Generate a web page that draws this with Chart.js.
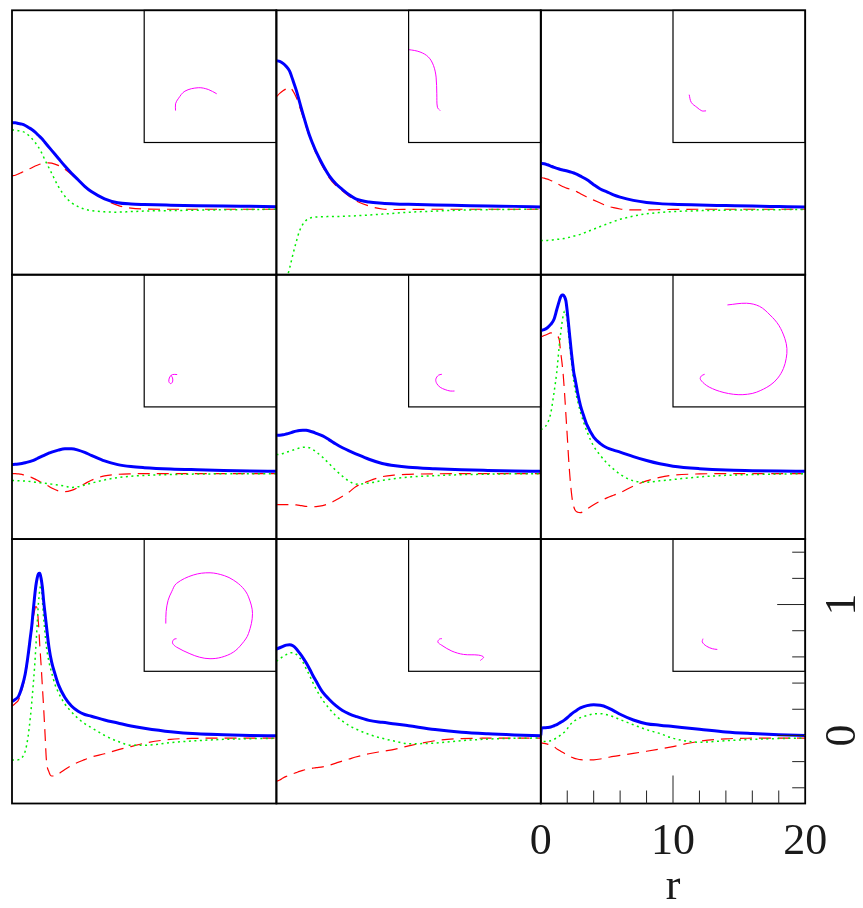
<!DOCTYPE html>
<html>
<head>
<meta charset="utf-8">
<title>Radial profiles</title>
<script src="https://cdn.jsdelivr.net/npm/chart.js@4.4.1/dist/chart.umd.min.js"></script>
<style>
  html, body { margin: 0; padding: 0; background: #fff; overflow: hidden; }
  #grid { position: relative; width: 863px; height: 908px; }
  #grid canvas { position: absolute; }
</style>
</head>
<body>
<div id="grid"></div>
<script>
// radial sample points (r)
const rCoarse = [0, 0.25, 0.5, 0.75, 1, 1.25, 1.5, 1.75, 2, 2.25, 2.5, 2.75, 3, 3.5, 4, 4.5, 5, 5.5, 6, 7, 8, 9, 10, 12, 14, 16, 18, 20];
const rFine = [0, 0.25, 0.5, 0.75, 1, 1.2, 1.4, 1.5, 1.6, 1.7, 1.8, 1.9, 2, 2.1, 2.2, 2.3, 2.4, 2.5, 2.6, 2.8, 3, 3.25, 3.5, 4, 4.5, 5, 5.5, 6, 7, 8, 9, 10, 12, 14, 16, 18, 20];
const r9 = [0, 0.05, 0.25, 0.5, 0.75, 1, 1.25, 1.5, 1.75, 2, 2.25, 2.5, 2.75, 3, 3.5, 4, 4.5, 5, 5.5, 6, 7, 8, 9, 10, 12, 14, 16, 18, 20];

// panel 1
const blue1 = [0.64, 0.64, 0.635, 0.63, 0.62, 0.605, 0.59, 0.57, 0.545, 0.52, 0.49, 0.46, 0.43, 0.37, 0.31, 0.255, 0.205, 0.155, 0.115, 0.06, 0.03, 0.02, 0.016, 0.011, 0.007, 0.004, 0.002, 0.0];
const red1 = [0.235, 0.24, 0.25, 0.262, 0.273, 0.285, 0.297, 0.31, 0.32, 0.328, 0.333, 0.335, 0.333, 0.315, 0.285, 0.245, 0.2, 0.155, 0.115, 0.055, 0.01, -0.012, -0.018, -0.02, -0.02, -0.02, -0.02, -0.02];
const green1 = [0.586, 0.585, 0.58, 0.575, 0.565, 0.545, 0.52, 0.49, 0.455, 0.41, 0.355, 0.305, 0.255, 0.155, 0.08, 0.03, 0.0, -0.02, -0.03, -0.04, -0.042, -0.038, -0.034, -0.03, -0.027, -0.024, -0.022, -0.02];
// panel 2
const blue2 = [1.115, 1.11, 1.095, 1.07, 1.035, 0.965, 0.89, 0.8, 0.71, 0.625, 0.545, 0.48, 0.42, 0.32, 0.235, 0.175, 0.13, 0.09, 0.06, 0.035, 0.026, 0.021, 0.018, 0.013, 0.009, 0.005, 0.002, -0.002];
const red2 = [0.84, 0.865, 0.885, 0.9, 0.91, 0.885, 0.835, 0.765, 0.69, 0.61, 0.535, 0.47, 0.405, 0.305, 0.22, 0.16, 0.12, 0.08, 0.045, 0.005, -0.018, -0.022, -0.021, -0.02, -0.02, -0.02, -0.02, -0.02];
const green2 = [-0.74, -0.7, -0.64, -0.56, -0.47, -0.365, -0.27, -0.185, -0.135, -0.105, -0.09, -0.082, -0.079, -0.077, -0.076, -0.075, -0.074, -0.072, -0.07, -0.064, -0.057, -0.05, -0.043, -0.034, -0.027, -0.023, -0.021, -0.02];
// panel 3
const blue3 = [0.33, 0.328, 0.32, 0.31, 0.3, 0.292, 0.284, 0.278, 0.272, 0.265, 0.257, 0.246, 0.233, 0.205, 0.168, 0.135, 0.113, 0.09, 0.073, 0.048, 0.032, 0.023, 0.018, 0.012, 0.008, 0.004, 0.001, -0.002];
const red3 = [0.222, 0.218, 0.21, 0.2, 0.19, 0.175, 0.162, 0.15, 0.14, 0.132, 0.125, 0.113, 0.098, 0.073, 0.05, 0.028, 0.006, -0.008, -0.018, -0.025, -0.025, -0.023, -0.021, -0.02, -0.02, -0.02, -0.02, -0.02];
const green3 = [-0.259, -0.259, -0.258, -0.256, -0.253, -0.25, -0.247, -0.244, -0.238, -0.232, -0.225, -0.219, -0.212, -0.192, -0.172, -0.152, -0.133, -0.114, -0.097, -0.072, -0.055, -0.045, -0.038, -0.031, -0.027, -0.025, -0.023, -0.022];
// panel 4
const blue4 = [0.05, 0.051, 0.054, 0.058, 0.063, 0.07, 0.078, 0.088, 0.1, 0.112, 0.124, 0.135, 0.145, 0.16, 0.17, 0.17, 0.16, 0.142, 0.12, 0.077, 0.049, 0.034, 0.026, 0.016, 0.01, 0.005, 0.001, -0.002];
const red4 = [-0.019, -0.02, -0.022, -0.026, -0.031, -0.039, -0.05, -0.062, -0.075, -0.088, -0.1, -0.115, -0.13, -0.152, -0.158, -0.148, -0.125, -0.097, -0.07, -0.037, -0.025, -0.021, -0.02, -0.02, -0.02, -0.02, -0.02, -0.02];
const green4 = [-0.073, -0.073, -0.074, -0.075, -0.077, -0.079, -0.082, -0.085, -0.088, -0.091, -0.094, -0.097, -0.1, -0.107, -0.115, -0.125, -0.12, -0.107, -0.093, -0.068, -0.05, -0.04, -0.034, -0.027, -0.023, -0.021, -0.02, -0.02];
// panel 5
const blue5 = [0.273, 0.274, 0.277, 0.283, 0.29, 0.298, 0.305, 0.31, 0.312, 0.311, 0.306, 0.298, 0.288, 0.268, 0.238, 0.206, 0.178, 0.154, 0.132, 0.09, 0.058, 0.04, 0.029, 0.018, 0.01, 0.005, 0.001, -0.002];
const red5 = [-0.256, -0.256, -0.256, -0.256, -0.256, -0.257, -0.259, -0.262, -0.266, -0.27, -0.272, -0.273, -0.272, -0.264, -0.248, -0.222, -0.192, -0.16, -0.12, -0.076, -0.043, -0.03, -0.025, -0.021, -0.02, -0.02, -0.02, -0.02];
const green5 = [0.126, 0.128, 0.134, 0.143, 0.151, 0.16, 0.168, 0.176, 0.181, 0.182, 0.178, 0.165, 0.147, 0.105, 0.055, 0.005, -0.04, -0.078, -0.1, -0.092, -0.072, -0.057, -0.046, -0.035, -0.028, -0.024, -0.021, -0.02];
// panel 6 (fine r)
const blue6 = [1.075, 1.08, 1.095, 1.12, 1.16, 1.23, 1.3, 1.33, 1.345, 1.345, 1.33, 1.3, 1.22, 1.12, 1.02, 0.92, 0.83, 0.75, 0.7, 0.59, 0.5, 0.42, 0.35, 0.26, 0.21, 0.178, 0.16, 0.145, 0.11, 0.08, 0.055, 0.037, 0.018, 0.007, 0.003, 0.0, -0.002];
const red6 = [1.024, 1.035, 1.045, 1.055, 1.05, 1.035, 1.0, 0.91, 0.83, 0.73, 0.59, 0.43, 0.27, 0.1, -0.04, -0.15, -0.23, -0.275, -0.3, -0.315, -0.318, -0.308, -0.29, -0.257, -0.23, -0.205, -0.185, -0.166, -0.115, -0.075, -0.048, -0.032, -0.022, -0.02, -0.02, -0.02, -0.02];
const green6 = [0.317, 0.33, 0.365, 0.44, 0.6, 0.75, 0.96, 1.05, 1.13, 1.19, 1.22, 1.21, 1.15, 1.05, 0.95, 0.85, 0.76, 0.68, 0.62, 0.53, 0.45, 0.37, 0.3, 0.19, 0.12, 0.06, 0.015, -0.025, -0.075, -0.085, -0.075, -0.065, -0.045, -0.033, -0.027, -0.023, -0.02];
// panel 7 (fine r)
const blue7 = [0.26, 0.275, 0.3, 0.37, 0.47, 0.6, 0.76, 0.84, 0.95, 1.05, 1.14, 1.2, 1.235, 1.24, 1.2, 1.13, 1.02, 0.93, 0.84, 0.67, 0.56, 0.47, 0.39, 0.29, 0.225, 0.185, 0.16, 0.147, 0.118, 0.095, 0.072, 0.055, 0.028, 0.012, 0.005, 0.0, -0.002];
const red7 = [0.222, 0.245, 0.273, 0.35, 0.45, 0.58, 0.73, 0.81, 0.89, 0.95, 0.985, 0.97, 0.86, 0.69, 0.54, 0.37, 0.2, 0.01, -0.185, -0.28, -0.31, -0.31, -0.295, -0.26, -0.23, -0.205, -0.185, -0.165, -0.14, -0.11, -0.085, -0.06, -0.03, -0.022, -0.02, -0.02, -0.02];
const green7 = [-0.185, -0.19, -0.185, -0.17, -0.12, -0.02, 0.15, 0.26, 0.38, 0.51, 0.67, 0.84, 1.01, 1.11, 1.15, 1.03, 0.89, 0.78, 0.68, 0.56, 0.48, 0.39, 0.33, 0.24, 0.18, 0.13, 0.09, 0.06, 0.0, -0.045, -0.075, -0.075, -0.055, -0.04, -0.03, -0.025, -0.022];
// panel 8
const blue8 = [0.66, 0.67, 0.68, 0.69, 0.693, 0.685, 0.663, 0.63, 0.595, 0.555, 0.51, 0.46, 0.415, 0.33, 0.275, 0.227, 0.19, 0.165, 0.146, 0.115, 0.1, 0.088, 0.074, 0.045, 0.024, 0.012, 0.004, -0.002];
const red8 = [-0.35, -0.34, -0.325, -0.313, -0.303, -0.293, -0.284, -0.275, -0.267, -0.26, -0.254, -0.25, -0.246, -0.24, -0.228, -0.212, -0.195, -0.18, -0.165, -0.14, -0.122, -0.105, -0.08, -0.04, -0.024, -0.021, -0.02, -0.02];
const green8 = [0.566, 0.585, 0.603, 0.618, 0.63, 0.632, 0.62, 0.595, 0.56, 0.51, 0.46, 0.405, 0.355, 0.27, 0.205, 0.15, 0.11, 0.075, 0.05, 0.008, -0.022, -0.045, -0.064, -0.058, -0.04, -0.028, -0.022, -0.02];
// panel 9 (starts with a jump just after r = 0)
const blue9 = [0.0, 0.057, 0.058, 0.06, 0.064, 0.074, 0.085, 0.1, 0.115, 0.135, 0.158, 0.178, 0.195, 0.21, 0.228, 0.235, 0.23, 0.215, 0.19, 0.162, 0.118, 0.09, 0.078, 0.068, 0.048, 0.027, 0.015, 0.006, 0.0];
const red9 = [-0.02, -0.057, -0.06, -0.066, -0.075, -0.087, -0.105, -0.12, -0.135, -0.15, -0.163, -0.173, -0.18, -0.185, -0.187, -0.186, -0.18, -0.17, -0.16, -0.152, -0.137, -0.121, -0.104, -0.085, -0.045, -0.026, -0.021, -0.02, -0.02];
const green9 = [-0.02, -0.045, -0.046, -0.045, -0.04, -0.03, -0.015, 0.002, 0.022, 0.05, 0.085, 0.108, 0.124, 0.136, 0.152, 0.165, 0.166, 0.158, 0.142, 0.121, 0.082, 0.044, 0.015, -0.022, -0.052, -0.04, -0.03, -0.024, -0.02];

// insets: dotted value (x) against dashed value (y)
const loop1x = [0.006, 0.006, 0.043, 0.139, 0.329, 0.471, 0.591];
const loop1y = [0.004, 0.1, 0.171, 0.28, 0.329, 0.304, 0.243];
const loop2x = [-0.74, -0.6, -0.444, -0.277, -0.159, -0.087, -0.049, -0.039, -0.03, 0.009];
const loop2y = [0.84, 0.875, 0.871, 0.837, 0.766, 0.647, 0.48, 0.243, 0.051, 0.004];
const loop3x = [-0.21, -0.18, -0.1, -0.03, 0.03];
const loop3y = [0.23, 0.12, 0.05, 0.0, 0.0];
const loop4x = [0.029, -0.037, -0.076, -0.09, -0.066, -0.037, -0.037, -0.061];
const loop4y = [0.01, 0.01, -0.024, -0.086, -0.119, -0.095, -0.038, 0.0];
const loop5x = [0.033, -0.016, -0.053, -0.039, 0.009, 0.08, 0.151, 0.213];
const loop5y = [0.014, 0.0, -0.057, -0.119, -0.171, -0.204, -0.224, -0.224];
const loop6x = [0.334, 0.606, 0.79, 0.94, 1.065, 1.15, 1.18, 1.17, 1.13, 1.05, 0.94, 0.75, 0.62, 0.486, 0.35, 0.224, 0.12, 0.034, -0.051, -0.037, 0.01];
const loop6y = [1.0, 1.024, 0.98, 0.857, 0.71, 0.524, 0.38, 0.24, 0.096, -0.04, -0.143, -0.24, -0.27, -0.276, -0.26, -0.229, -0.19, -0.143, -0.057, -0.01, 0.014];
const loop7x = [-0.133, -0.128, -0.1, -0.05, 0.02, 0.257, 0.496, 0.7, 0.829, 0.96, 1.043, 1.1, 1.043, 0.95, 0.829, 0.66, 0.496, 0.35, 0.21, 0.02, -0.037, -0.019, 0.02];
const loop7y = [0.229, 0.4, 0.56, 0.68, 0.8, 0.919, 0.951, 0.91, 0.847, 0.74, 0.609, 0.371, 0.086, -0.06, -0.177, -0.25, -0.271, -0.25, -0.2, -0.106, -0.049, 0.004, 0.014];
const loop8x = [0.58, 0.627, 0.556, 0.341, 0.176, 0.033, -0.024, 0.0, 0.033];
const loop8y = [-0.296, -0.249, -0.22, -0.21, -0.163, -0.081, -0.034, 0.009, 0.014];
const loop9x = [-0.014, -0.023, 0.034, 0.12, 0.19];
const loop9y = [0.014, -0.034, -0.091, -0.129, -0.139];

// axis ticks of the bottom right panel
const xLabels = [0, 10, 20];
const xMinor = [2, 4, 6, 8, 12, 14, 16, 18];
const yLabels = [0, 1];
const yMinor = [-0.4, -0.2, 0.2, 0.4, 0.6, 0.8, 1.2, 1.4];

const panels = [
  { r: rCoarse, blue: blue1, red: red1, green: green1, lx: loop1x, ly: loop1y },
  { r: rCoarse, blue: blue2, red: red2, green: green2, lx: loop2x, ly: loop2y },
  { r: rCoarse, blue: blue3, red: red3, green: green3, lx: loop3x, ly: loop3y },
  { r: rCoarse, blue: blue4, red: red4, green: green4, lx: loop4x, ly: loop4y },
  { r: rCoarse, blue: blue5, red: red5, green: green5, lx: loop5x, ly: loop5y },
  { r: rFine, blue: blue6, red: red6, green: green6, lx: loop6x, ly: loop6y },
  { r: rFine, blue: blue7, red: red7, green: green7, lx: loop7x, ly: loop7y },
  { r: rCoarse, blue: blue8, red: red8, green: green8, lx: loop8x, ly: loop8y },
  { r: r9, blue: blue9, red: red9, green: green9, lx: loop9x, ly: loop9y }
];

const S = 264.4, LEFT = 12, TOP = 10.3;
const serif = '"Liberation Serif", "DejaVu Serif", serif';
const ink = '#1a1a1a';
const grid = document.getElementById('grid');

function addCanvas(x, y, w, h) {
  const c = document.createElement('canvas');
  c.width = w; c.height = h;
  c.style.left = x + 'px'; c.style.top = y + 'px';
  c.style.width = w + 'px'; c.style.height = h + 'px';
  grid.appendChild(c);
  return c;
}

function points(xs, ys) {
  return xs.map((x, k) => ({ x: x, y: ys[k] }));
}

// box around the plot area, plus the inward ticks of the last panel
const frame = {
  id: 'frame',
  afterDatasetsDraw(chart, args, opts) {
    const a = chart.chartArea, ctx = chart.ctx;
    ctx.save();
    ctx.strokeStyle = '#000';
    ctx.lineWidth = opts.width;
    ctx.strokeRect(a.left, a.top, a.right - a.left, a.bottom - a.top);
    if (opts.ticks) {
      const xs = chart.scales.x, ys = chart.scales.y;
      ctx.lineWidth = 1;
      ctx.strokeStyle = '#222';
      ctx.beginPath();
      xMinor.forEach(v => { const p = xs.getPixelForValue(v); ctx.moveTo(p, a.bottom); ctx.lineTo(p, a.bottom - 13); });
      xLabels.slice(1, -1).forEach(v => { const p = xs.getPixelForValue(v); ctx.moveTo(p, a.bottom); ctx.lineTo(p, a.bottom - 28); });
      yMinor.forEach(v => { const p = ys.getPixelForValue(v); ctx.moveTo(a.right, p); ctx.lineTo(a.right - 13, p); });
      yLabels.forEach(v => { const p = ys.getPixelForValue(v); ctx.moveTo(a.right, p); ctx.lineTo(a.right - 28, p); });
      ctx.stroke();
    }
    ctx.restore();
  }
};

panels.forEach((p, k) => {
  const row = Math.floor(k / 3), col = k % 3;
  const x0 = LEFT + col * S, y0 = TOP + row * S;
  const last = k === 8;

  // main panel
  const L = Math.floor(x0) - (last ? 30 : 3);
  const T = Math.floor(y0) - 3;
  const R = last ? 863 : Math.ceil(x0 + S) + 3;
  const B = last ? 908 : Math.ceil(y0 + S) + 3;
  const gapR = R - (x0 + S), gapB = B - (y0 + S);
  const cv = addCanvas(L, T, R - L, B - T);

  let scales;
  if (last) {
    scales = {
      x: {
        type: 'linear', min: 0, max: 20, position: 'bottom',
        afterBuildTicks: a => { a.ticks = xLabels.map(v => ({ value: v })); },
        afterFit: a => { a.height = gapB; a.paddingLeft = 0; a.paddingRight = 0; },
        grid: { display: false, drawTicks: false },
        border: { display: false },
        ticks: { autoSkip: false, maxRotation: 0, padding: 13, color: ink, font: { family: serif, size: 44 }, callback: v => String(v) },
        title: { display: true, text: 'r', color: ink, padding: 0, font: { family: serif, size: 44, lineHeight: 0.95 } }
      },
      y: {
        type: 'linear', min: -0.52, max: 1.5, position: 'right',
        afterBuildTicks: a => { a.ticks = yLabels.map(v => ({ value: v })); },
        afterFit: a => { a.width = gapR; a.paddingTop = 0; a.paddingBottom = 0; },
        grid: { display: false, drawTicks: false },
        border: { display: false },
        ticks: { autoSkip: false, minRotation: 90, maxRotation: 90, crossAlign: 'center', padding: 26.8, color: ink, font: { family: serif, size: 44 }, callback: v => String(v) }
      }
    };
  } else {
    scales = {
      x: { type: 'linear', min: 0, max: 20, display: false },
      y: { type: 'linear', min: -0.52, max: 1.5, display: false }
    };
  }

  new Chart(cv, {
    type: 'line',
    data: {
      datasets: [
        { data: points(p.r, p.blue), borderColor: '#0000ff', borderWidth: 3 },
        { data: points(p.r, p.green), borderColor: '#00ee00', borderWidth: 1.5, borderDash: [2, 3.5] },
        { data: points(p.r, p.red), borderColor: '#ff0000', borderWidth: 1.2, borderDash: [12, 7] }
      ]
    },
    options: {
      responsive: false,
      animation: false,
      events: [],
      layout: { padding: { left: x0 - L, top: y0 - T, right: last ? 0 : gapR, bottom: last ? 0 : gapB } },
      elements: { point: { radius: 0 }, line: { cubicInterpolationMode: 'monotone', fill: false } },
      scales: scales,
      plugins: { legend: { display: false }, tooltip: { enabled: false }, frame: { width: 1.8, ticks: last } }
    },
    plugins: [frame]
  });

  // inset in the upper right quarter (transparent, so the axis ticks underneath stay visible)
  const h = S / 2;
  const ix = x0 + h, iy = y0;
  const iL = Math.floor(ix) - 3, iT = Math.floor(iy) - 3;
  const iR = Math.ceil(ix + h) + 3, iB = Math.ceil(iy + h) + 3;
  const ic = addCanvas(iL, iT, iR - iL, iB - iT);
  new Chart(ic, {
    type: 'line',
    data: {
      datasets: [
        { data: points(p.lx, p.ly), borderColor: '#ff00ff', borderWidth: 1, tension: 0.35 }
      ]
    },
    options: {
      responsive: false,
      animation: false,
      events: [],
      layout: { padding: { left: ix - iL, top: iy - iT, right: iR - (ix + h), bottom: iB - (iy + h) } },
      elements: { point: { radius: 0 }, line: { fill: false } },
      scales: {
        x: { type: 'linear', min: -0.44, max: 1.44, display: false },
        y: { type: 'linear', min: -0.45, max: 1.43, display: false }
      },
      plugins: { legend: { display: false }, tooltip: { enabled: false }, frame: { width: 1.2 } }
    },
    plugins: [frame]
  });
});
</script>
</body>
</html>
